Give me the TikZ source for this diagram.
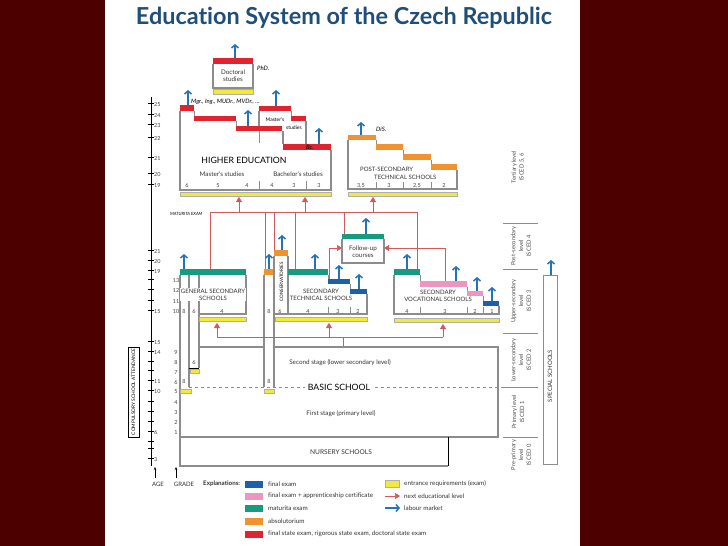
\documentclass[tikz,border=0pt]{standalone}
\usepackage{fontspec}
\setmainfont{Lato}[Ligatures=NoCommon]
\usetikzlibrary{arrows.meta}
\definecolor{frameRed}{HTML}{4D0000}
\definecolor{titleBlue}{HTML}{1F4E79}
\definecolor{examBlue}{HTML}{1D5FA8}
\definecolor{arrowBlue}{HTML}{2473B5}
\definecolor{examPink}{HTML}{EC96C0}
\definecolor{examTeal}{HTML}{179A80}
\definecolor{examOrange}{HTML}{EF922F}
\definecolor{examRed}{HTML}{E0232E}
\definecolor{entryYellow}{HTML}{F4E93A}
\definecolor{levelRed}{HTML}{D25A5A}
\definecolor{wallGray}{HTML}{8C8C8C}
\begin{document}
\begin{tikzpicture}[x=1pt,y=-1pt,
    wall/.style={draw=wallGray,line width=1.3pt},
    partition/.style={draw=wallGray,line width=0.6pt},
    entry/.style={fill=entryYellow,draw=wallGray!70,line width=0.3pt},
    labour/.style={draw=arrowBlue,line width=1.5pt,-{Straight Barb[length=3pt,width=7pt]}},
    nextlevel/.style={draw=levelRed,line width=0.5pt,-{Triangle[length=5pt,width=6pt]}},
    redline/.style={draw=levelRed,line width=0.5pt},
    note/.style={font=\fontsize{6}{7}\selectfont\itshape,inner sep=0pt},
    label/.style={font=\fontsize{6.3}{7}\selectfont,inner sep=0pt,align=center,text=black!80},
    capslabel/.style={font=\fontsize{6}{7}\selectfont,inner sep=0pt,align=center,text=black!80},
    heading/.style={font=\fontsize{8.7}{10}\selectfont,inner sep=0pt},
    num/.style={font=\fontsize{5.5}{6}\selectfont,inner sep=0pt,text=black!75},
    isced/.style={font=\fontsize{5.8}{7.8}\selectfont,rotate=90,align=center,inner sep=0pt,text=black!70}]
% Frame and page
\fill[frameRed] (0,0) rectangle (728,546);
\fill[white] (105,0) rectangle (580,546);
\useasboundingbox (0,0) rectangle (728,546);
% Title
\node[font=\fontsize{23.4}{27}\selectfont\bfseries,text=titleBlue] (title) at (344,18) {Education System of the Czech Republic};

% Age axis
\draw[line width=0.5pt] (151,97) -- (151,466);
\foreach \y in {105,116,126,139,159,175,186,252,262,272,281,291,302,312,343,353,363,372,382,392,403,413,423,433,443,450,460}
  \draw[line width=0.5pt] (148,\y-2) -- (154,\y-2);
\foreach \a/\y in {25/105,24/116,23/126,22/139,21/159,20/175,19/186,21/252,20/262,19/272,15/312,15/343,14/353,11/382,10/392,6/433,3/460}
  \node[num,anchor=west] at (154,\y) {\a};
% Grade numbers
\foreach \g/\y in {13/281,12/291,11/302,10/312,9/353,8/363,7/373,6/383,5/392,4/403,3/413,2/423,1/433}
  \node[num] at (176,\y) {\g};
\draw[-{Stealth[length=3pt,width=2.5pt]},line width=0.5pt] (155,478) -- (155,467);
\draw[-{Stealth[length=3pt,width=2.5pt]},line width=0.5pt] (176,478) -- (176,467);
\node[capslabel] (age) at (158,484) {AGE};
\node[capslabel] (grade) at (184,484) {GRADE};
% Compulsory attendance
\draw[line width=0.6pt] (128,347) rectangle (139,437);
\node[font=\fontsize{4.8}{5}\selectfont,rotate=90,inner sep=0pt] (compulsory) at (133.5,392) {COMPULSORY SCHOOL ATTENDANCE};

% Doctoral studies
\fill[examRed] (213,58) rectangle (253,64);
\draw[wall] (213,64) -- (213,88) -- (253,88) -- (253,64);
\path[entry] (213,89.5) rectangle (253,94);
\node[label] (doctoral) at (233,75.5) {Doctoral\\studies};
\node[note,anchor=west] (phd) at (257,68) {PhD.};
\draw[labour] (235,58) -- (235,44);

% Higher education
\fill[examRed] (180,105) rectangle (194,111);
\fill[examRed] (194,116) rectangle (236,121);
\fill[examRed] (236,126) rectangle (282,131);
\fill[examRed] (259,106) rectangle (291,111);
\fill[examRed] (291,116) rectangle (306,121);
\fill[examRed] (283,144) rectangle (331,150);
\draw[wall] (180,111) -- (180,190) -- (331,190) -- (331,150);
\draw[partition] (194,111) -- (194,116);
\draw[partition] (236,121) -- (236,126);
\draw[wall] (259,111) -- (259,126);
\draw[partition] (259,131) -- (259,143);
\draw[partition] (291,111) -- (291,116);
\draw[wall] (306,121) -- (306,144);
\draw[wall] (283,131) -- (283,144);
\draw[partition] (259,181) -- (259,190);
\draw[partition] (306,181) -- (306,190);
\path[entry] (180,192) rectangle (331,196);
\node[note,anchor=west] (degrees) at (191,102) {Mgr., Ing., MUDr., MVDr., ...};
\node[font=\fontsize{5}{6}\selectfont,inner sep=0pt] (masterbox) at (275,119.5) {Master's};
\node[font=\fontsize{5}{6}\selectfont,inner sep=0pt] (masterstud) at (294,128) {studies};
\node[note] (bc) at (310,147) {Bc.};
\node[heading] (higher) at (244,160) {HIGHER EDUCATION};
\node[label] (masters) at (222,174) {Master's studies};
\node[label] (bachelors) at (298,174) {Bachelor's studies};
\foreach \n/\x in {6/187,5/218,4/247,4/272,3/294,3/319}
  \node[num] at (\x,186) {\n};
\draw[labour] (188,105) -- (188,90);
\draw[labour] (248,126) -- (248,110);
\draw[labour] (276,106) -- (276,90);
\draw[labour] (319,144) -- (319,128);

% Post-secondary technical schools
\fill[examOrange] (348,135) rectangle (376,140);
\fill[examOrange] (376,144) rectangle (403,150);
\fill[examOrange] (403,154) rectangle (431,160);
\fill[examOrange] (431,164) rectangle (457,170);
\draw[wall] (348,140) -- (348,189) -- (457,189) -- (457,170);
\draw[partition] (376,140) -- (376,144);
\draw[partition] (403,150) -- (403,154);
\draw[partition] (431,160) -- (431,164);
\foreach \x in {376,403,431}
  \draw[partition] (\x,182) -- (\x,189);
\path[entry] (348,192) rectangle (457,196);
\node[capslabel,anchor=west] (postsec) at (360,169) {POST-SECONDARY};
\node[capslabel,anchor=west] (postsectech) at (374,177) {TECHNICAL SCHOOLS};
\foreach \n/\x in {3{,}5/361,3/389,2{,}5/417,2/444}
  \node[num] at (\x,186) {\n};
\node[note,anchor=west] (dis) at (376,129) {DiS.};
\draw[labour] (361,135) -- (361,122);

% Routes to tertiary level
\node[font=\fontsize{4.3}{5}\selectfont\itshape,inner sep=0pt,anchor=west] (maturita) at (170,214) {MATURITA EXAM};
\draw[redline] (210,212) -- (417,212);
\draw[nextlevel] (239,212) -- (239,197);
\draw[nextlevel] (305,212) -- (305,197);
\draw[nextlevel] (373,212) -- (373,197);
\draw[redline] (210,212) -- (210,269);
\draw[redline] (265,212) -- (265,269);
\draw[redline] (274,212) -- (274,250);
\draw[redline] (295,212) -- (295,269);
\draw[redline] (344,212) -- (344,234);
\draw[redline] (417,212) -- (417,269);
\draw[nextlevel] (329,279) -- (329,248) -- (342,248);
\draw[nextlevel] (445,281) -- (445,248) -- (384,248);

% Follow-up courses
\fill[examTeal] (342,234) rectangle (384,239);
\draw[wall] (342,239) -- (342,263) -- (384,263) -- (384,239);
\node[label] (followup) at (363,252) {Follow-up\\courses};
\draw[labour] (366,234) -- (366,218);

% General secondary schools
\fill[examTeal] (180,269) rectangle (246,275);
\draw[wall] (180,275) -- (180,437);
\draw[wall] (189,275) -- (189,387);
\draw[wall] (199,275) -- (199,368);
\draw[wall] (246,275) -- (246,314) -- (199,314);
\draw[line width=0.7pt] (189,368) -- (199,368);
\path[entry] (199,317) rectangle (246,321);
\path[entry] (190,369.5) rectangle (199,373.5);
\path[entry] (180,389) rectangle (191,393);
\node[capslabel,fill=white,inner xsep=0.5pt,inner ysep=0.8pt] (general) at (213,294.5) {GENERAL SECONDARY\\SCHOOLS};
\foreach \n/\x in {8/184,6/194,4/222}
  \node[num] at (\x,312) {\n};
\node[num] at (194,363) {6};
\node[num] at (184,382) {8};
\draw[labour] (184,269) -- (184,254);

% Conservatories
\fill[examOrange] (264,269) rectangle (273,275);
\fill[examOrange] (274,250) rectangle (288,256);
\draw[wall] (264,275) -- (264,387);
\draw[wall] (274,256) -- (274,387);
\draw[wall] (288,256) -- (288,314);
\path[entry] (264,389) rectangle (274,393);
\node[font=\fontsize{4.6}{5}\selectfont,rotate=90,inner sep=0pt] (conserv) at (281.5,282) {CONSERVATORIES};
\node[num] at (269,312) {8};
\node[num] at (280,312) {6};
\node[num] at (269,382) {8};
\draw[labour] (269,269) -- (269,254);
\draw[labour] (282,250) -- (282,235);

% Secondary technical schools
\fill[examTeal] (288,269) rectangle (328,275);
\fill[examBlue] (328,279) rectangle (350,284);
\fill[examBlue] (350,289) rectangle (367,294);
\draw[wall] (274,314) -- (367,314) -- (367,294);
\draw[partition] (328,275) -- (328,279);
\draw[partition] (350,284) -- (350,289);
\foreach \x in {328,350}
  \draw[partition] (\x,307) -- (\x,314);
\path[entry] (275,317) rectangle (367,321);
\node[capslabel] (technical) at (321,294.5) {SECONDARY\\TECHNICAL SCHOOLS};
\foreach \n/\x in {4/308,3/338,2/358}
  \node[num] at (\x,312) {\n};
\draw[labour] (315,269) -- (315,254);
\draw[labour] (339,279) -- (339,265);
\draw[labour] (359,289) -- (359,274);

% Secondary vocational schools
\fill[examTeal] (394,269) rectangle (420,275);
\fill[examPink] (420,281) rectangle (467,287);
\fill[examPink] (467,291) rectangle (483,296);
\fill[examBlue] (483,301) rectangle (499,306);
\draw[wall] (394,275) -- (394,314) -- (499,314) -- (499,306);
\draw[partition] (420,275) -- (420,281);
\draw[partition] (467,287) -- (467,291);
\draw[partition] (483,296) -- (483,301);
\foreach \x in {420,467,483}
  \draw[partition] (\x,307) -- (\x,314);
\path[entry] (394,318) rectangle (499,322);
\node[capslabel] (vocational) at (438,295.5) {SECONDARY\\VOCATIONAL SCHOOLS};
\foreach \n/\x in {4/407,3/445,2/475,1/492}
  \node[num] at (\x,312) {\n};
\draw[labour] (407,269) -- (407,254);
\draw[labour] (456,281) -- (456,266);
\draw[labour] (477,291) -- (477,277);
\draw[labour] (492,301) -- (492,287);

% Routes from basic school
\draw[redline] (217,337) -- (443,337);
\draw[redline] (343,337) -- (343,347);
\draw[nextlevel] (217,337) -- (217,323);
\draw[nextlevel] (329,337) -- (329,323);
\draw[nextlevel] (443,337) -- (443,324);

% Basic school
\draw[wall] (199,347) -- (264,347);
\draw[wall] (274,347) -- (498,347) -- (498,437) -- (180,437);
\draw[wallGray,dashed,line width=0.5pt] (189,387) -- (505,387);
\node[heading,fill=white,inner xsep=3pt,inner ysep=1pt] (basic) at (339,387) {BASIC SCHOOL};
\node[label] (second) at (340,363) {Second stage (lower secondary level)};
\node[label] (first) at (341,414) {First stage (primary level)};
% Nursery schools
\draw[wall] (180,437) -- (180,466) -- (448,466);
\draw[line width=0.9pt] (448,466) -- (448,437);
\node[font=\fontsize{6.6}{7}\selectfont,inner sep=0pt,text=black!80] (nursery) at (341,452) {NURSERY SCHOOLS};

% ISCED levels
\foreach \y in {223,269,333,387,437}
  \draw[wallGray,line width=0.5pt] (503,\y) -- (538,\y);
\node[isced] (tertiary) at (518,167) {Tertiary level\\ISCED 5, 6};
\node[isced] (isced4) at (521,246) {Post-secondary\\level\\ISCED 4};
\node[isced] (isced3) at (521,301) {Upper-secondary\\level\\ISCED 3};
\node[isced] (isced2) at (521,360) {Lower-secondary\\level\\ISCED 2};
\node[isced] (isced1) at (518,412) {Primary level\\ISCED 1};
\node[isced] (isced0) at (521,455) {Pre-primary\\level\\ISCED 0};
% Special schools
\draw[wallGray,line width=0.7pt] (543,275) rectangle (557,464);
\node[font=\fontsize{6}{7}\selectfont,rotate=90,inner sep=0pt,text=black!80] (special) at (550,376) {SPECIAL SCHOOLS};
\draw[labour] (551,275) -- (551,260);

% Explanations
\node[anchor=west,inner sep=0pt,font=\fontsize{6.2}{7}\selectfont\bfseries,text=black!80] (expl) at (203,484) {Explanations:};
\foreach \c/\y/\t in {examBlue/484/final exam,
    examPink/496/final exam + apprenticeship certificate,
    examTeal/508/maturita exam,
    examOrange/521/absolutorium,
    examRed/534/{final state exam, rigorous state exam, doctoral state exam}} {
  \fill[\c] (245,\y-3.5) rectangle (263,\y+3.5);
  \node[label,anchor=west] at (268,\y) {\t};
}
\path[entry] (385,480.5) rectangle (399,487.5);
\node[label,anchor=west] (entrylab) at (404,484) {entrance requirements (exam)};
\draw[nextlevel] (385,496) -- (400,496);
\node[label,anchor=west] (nextlab) at (404,496) {next educational level};
\draw[labour] (385,508) -- (400,508);
\node[label,anchor=west] (labourlab) at (404,508) {labour market};
\end{tikzpicture}
\end{document}
